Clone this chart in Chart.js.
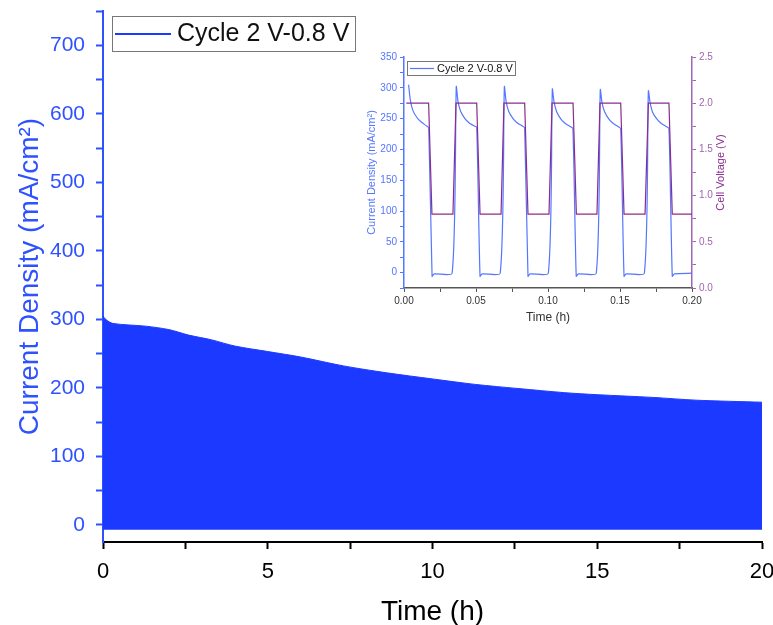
<!DOCTYPE html>
<html>
<head>
<meta charset="utf-8">
<script src="https://cdn.jsdelivr.net/npm/chart.js@4.4.0/dist/chart.umd.min.js"></script>
<style>
  body { margin: 0; background: #fff; }
  #wrap { position: relative; width: 773px; height: 625px; background: #fff; }
  #mainChart { position: absolute; left: 0; top: 0; }
  #insetChart { position: absolute; left: 340px; top: 45px; }
</style>
</head>
<body>
<div id="wrap">
  <canvas id="mainChart" width="773" height="625"></canvas>
  <canvas id="insetChart" width="420" height="290"></canvas>
</div>
<script>
// ---- main plot : envelope of the current over 20 h ----
var mainTime = [0, 0.08, 0.3, 1.3, 2.0, 2.6, 3.3, 4.0, 5.0, 6.0, 7.3, 8.6, 10.0, 11.3, 12.6, 14.0, 15.0, 16.7, 18.0, 20.0];
var mainPeak = [305, 300, 294, 290, 285, 277, 270, 261, 253, 245, 232, 222, 213, 205, 199, 193, 190, 186, 182, 179];
var mainTrough = -7;

// ---- inset : first 0.2 h ----
var insetTime = [
  0.0032, 0.0044, 0.0062, 0.0092, 0.0122, 0.0157, 0.0172, 0.0195, 0.0210, 0.0334,
  0.0363, 0.0375, 0.0393, 0.0423, 0.0453, 0.0488, 0.0505, 0.0528, 0.0543, 0.0668,
  0.0697, 0.0709, 0.0727, 0.0757, 0.0787, 0.0822, 0.0838, 0.0861, 0.0876, 0.1002,
  0.1030, 0.1042, 0.1060, 0.1090, 0.1120, 0.1155, 0.1173, 0.1196, 0.1211, 0.1335,
  0.1363, 0.1375, 0.1393, 0.1423, 0.1453, 0.1488, 0.1505, 0.1528, 0.1543, 0.1669,
  0.1697, 0.1709, 0.1727, 0.1757, 0.1787, 0.1822, 0.1840, 0.1863, 0.1878, 0.2000
];
var insetCurrent = [
  305, 280, 263, 251, 244, 238, 235, -6, -2, -1,
  302, 278, 262, 250, 243, 238, 236, -6, -2, -1,
  302, 278, 262, 250, 243, 238, 235, -6, -2, -1,
  298, 277, 261, 249, 242, 237, 234, -6, -2, -1,
  297, 276, 261, 249, 242, 237, 234, -6, -2, -1,
  295, 276, 260, 249, 242, 237, 234, -6, -2, -1
];
var voltTime = [
  0.0016, 0.0171, 0.0194, 0.0340, 0.0361, 0.0505, 0.0528, 0.0674,
  0.0694, 0.0838, 0.0861, 0.1007, 0.1028, 0.1174, 0.1197, 0.1340,
  0.1361, 0.1505, 0.1528, 0.1674, 0.1697, 0.1840, 0.1863, 0.2000
];
var voltValue = [
  2.0, 2.0, 0.8, 0.8, 2.0, 2.0, 0.8, 0.8,
  2.0, 2.0, 0.8, 0.8, 2.0, 2.0, 0.8, 0.8,
  2.0, 2.0, 0.8, 0.8, 2.0, 2.0, 0.8, 0.8
];
var legendLabel = "Cycle 2 V-0.8 V";

var FONT = "Arial, 'Liberation Sans', sans-serif";
var BLUE = "#1c3aff";
var BLUE_TXT = "#2f52ff";
var LBLUE = "#5576ff";
var PURPLE = "#8a2d8f";
var PURPLE_AX = "#a066b0";

function pts(xs, ys) {
  return xs.map(function (x, i) { return { x: x, y: ys[i] }; });
}
function noPadX(s, h) { s.height = h; s.paddingLeft = 0; s.paddingRight = 0; }
function noPadY(s, w) { s.width = w; s.paddingTop = 0; s.paddingBottom = 0; }

// legend box drawn like the origin one (box, short line, text)
function legendBox(id, box) {
  return {
    id: id,
    afterDraw: function (chart) {
      var c = chart.ctx;
      c.save();
      c.strokeStyle = "#777";
      c.lineWidth = 1;
      c.strokeRect(box.x + 0.5, box.y + 0.5, box.w, box.h);
      c.strokeStyle = box.color;
      c.lineWidth = box.lw;
      c.beginPath();
      c.moveTo(box.x + box.l0, box.y + box.h / 2 + 0.5);
      c.lineTo(box.x + box.l1, box.y + box.h / 2 + 0.5);
      c.stroke();
      c.fillStyle = "#111";
      c.font = box.size + "px " + FONT;
      c.textBaseline = "middle";
      c.fillText(legendLabel, box.x + box.tx, box.y + box.h / 2 + 1);
      c.restore();
    }
  };
}

// right axis title reading bottom to top (origin style)
var rightTitle = {
  id: "rightTitle",
  afterDraw: function (chart) {
    var c = chart.ctx, a = chart.chartArea;
    c.save();
    c.translate(381, (a.top + a.bottom) / 2);
    c.rotate(-Math.PI / 2);
    c.fillStyle = PURPLE;
    c.font = "11px " + FONT;
    c.textAlign = "center";
    c.textBaseline = "middle";
    c.fillText("Cell Voltage (V)", 0, 0);
    c.restore();
  }
};

Chart.defaults.font.family = FONT;

// *************************************************************
// main chart
// *************************************************************
new Chart(document.getElementById("mainChart"), {
  type: "line",
  data: {
    datasets: [{
      data: pts(mainTime, mainPeak),
      borderColor: BLUE,
      backgroundColor: BLUE,
      borderWidth: 1,
      pointRadius: 0,
      tension: 0.3,
      fill: { value: mainTrough }
    }]
  },
  options: {
    responsive: false,
    animation: false,
    devicePixelRatio: 1,
    layout: { padding: { top: 11, right: 11, left: 0, bottom: 0 } },
    plugins: { legend: { display: false }, tooltip: { enabled: false } },
    scales: {
      x: {
        type: "linear", min: 0, max: 20,
        afterFit: function (s) { noPadX(s, 83); },
        border: { color: "#000", width: 2 },
        grid: { drawOnChartArea: false, color: "#000", tickLength: 7, tickWidth: 2 },
        ticks: {
          stepSize: 2.5, includeBounds: false, color: "#000", padding: 10, maxRotation: 0,
          font: { size: 22 },
          callback: function (v) { return v % 5 === 0 ? String(v) : ""; }
        },
        title: { display: true, text: "Time (h)", color: "#000", font: { size: 28 }, padding: { top: 0, bottom: -4 } }
      },
      y: {
        min: -25, max: 750,
        afterFit: function (s) { noPadY(s, 103); },
        border: { color: BLUE_TXT, width: 2 },
        grid: { drawOnChartArea: false, color: BLUE_TXT, tickLength: 7, tickWidth: 2 },
        ticks: {
          stepSize: 50, includeBounds: false, color: BLUE_TXT, padding: 11,
          font: { size: 21 },
          callback: function (v) { return v % 100 === 0 ? String(v) : ""; }
        },
        title: { display: true, text: "Current Density (mA/cm²)", color: BLUE_TXT, font: { size: 28 }, padding: { top: 13, bottom: 0 } }
      }
    }
  },
  plugins: [legendBox("mainLegend", { x: 112, y: 16, w: 243, h: 35, l0: 3, l1: 59, tx: 65, size: 25, lw: 2, color: BLUE })]
});

// *************************************************************
// inset chart
// *************************************************************
function isMult(v, s) { return Math.abs(v / s - Math.round(v / s)) < 1e-6; }

new Chart(document.getElementById("insetChart"), {
  type: "line",
  data: {
    datasets: [
      {
        data: pts(voltTime, voltValue),
        yAxisID: "y2",
        borderColor: PURPLE, borderWidth: 1.2, pointRadius: 0, tension: 0, fill: false
      },
      {
        data: pts(insetTime, insetCurrent),
        yAxisID: "y",
        borderColor: LBLUE, borderWidth: 1.2, pointRadius: 0, tension: 0.2, fill: false
      }
    ]
  },
  options: {
    responsive: false,
    animation: false,
    devicePixelRatio: 1,
    layout: { padding: { top: 12, right: 0, left: 0, bottom: 0 } },
    plugins: { legend: { display: false }, tooltip: { enabled: false } },
    scales: {
      x: {
        type: "linear", min: 0, max: 0.2,
        afterFit: function (s) { noPadX(s, 47); },
        border: { color: "#555", width: 1.5 },
        grid: { drawOnChartArea: false, color: "#555", tickLength: 4 },
        ticks: {
          stepSize: 0.025, includeBounds: false, color: "#333", padding: 3, maxRotation: 0, font: { size: 10 },
          callback: function (v) { return isMult(v, 0.05) ? v.toFixed(2) : ""; }
        },
        title: { display: true, text: "Time (h)", color: "#333", font: { size: 12 }, padding: { top: 0, bottom: 10 } }
      },
      y: {
        position: "left", min: -25, max: 350,
        afterFit: function (s) { noPadY(s, 64); },
        border: { color: LBLUE, width: 1.5 },
        grid: { drawOnChartArea: false, color: LBLUE, tickLength: 4 },
        ticks: {
          stepSize: 25, includeBounds: false, color: LBLUE, padding: 3, font: { size: 10 },
          callback: function (v) { return isMult(v, 50) ? String(v) : ""; }
        },
        title: { display: true, text: "Current Density (mA/cm²)", color: LBLUE, font: { size: 11 }, padding: { top: 25, bottom: 0 } }
      },
      y2: {
        position: "right", min: 0, max: 2.5,
        afterFit: function (s) { noPadY(s, 68); },
        border: { color: PURPLE_AX, width: 1.5 },
        grid: { drawOnChartArea: false, color: PURPLE_AX, tickLength: 4 },
        ticks: {
          stepSize: 0.25, includeBounds: false, color: PURPLE_AX, padding: 3, font: { size: 10 },
          callback: function (v) { return isMult(v, 0.5) ? v.toFixed(1) : ""; }
        },
        title: { display: false }
      }
    }
  },
  plugins: [rightTitle, legendBox("insetLegend", { x: 67, y: 16, w: 108, h: 14, l0: 3, l1: 27, tx: 30, size: 11, lw: 1.2, color: LBLUE })]
});
</script>
</body>
</html>
